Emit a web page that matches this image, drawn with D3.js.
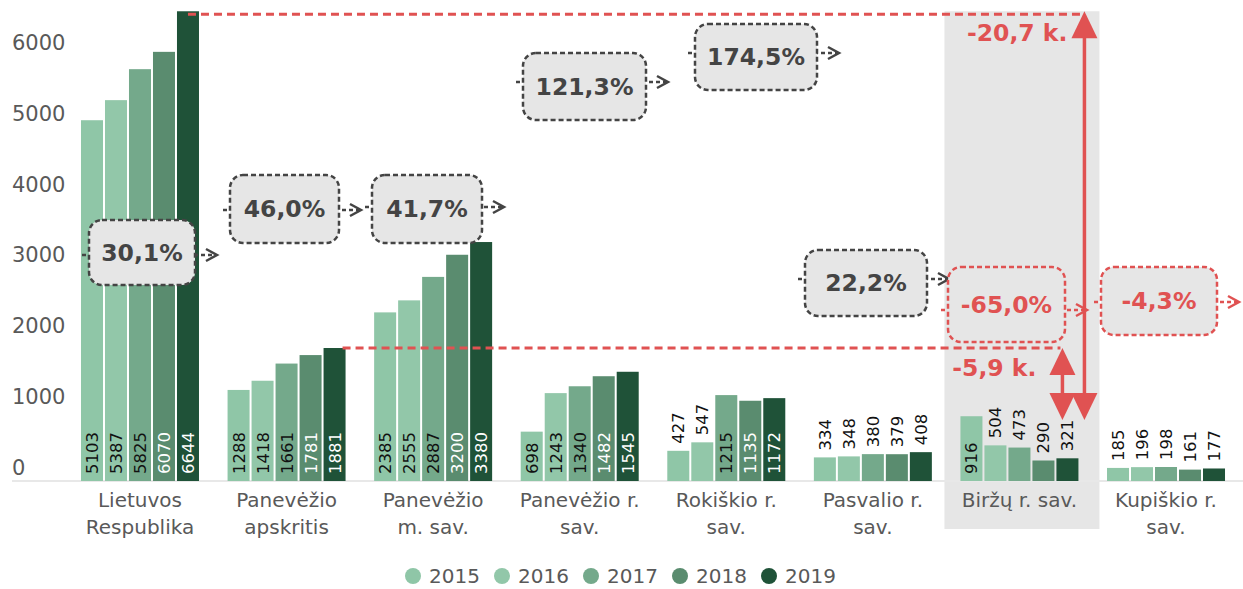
<!DOCTYPE html>
<html>
<head>
<meta charset="utf-8">
<script src="https://cdn.jsdelivr.net/npm/d3@7"></script>
<style>
  body { margin: 0; background: #fff; }
  svg { display: block; font-family: 'DejaVu Sans', Verdana, sans-serif; }
</style>
</head>
<body>
<div id="chart"></div>
<script>
const w = 1243, h = 589

// data
const categories = ['Lietuvos Respublika', 'Panevėžio apskritis', 'Panevėžio m. sav.', 'Panevėžio r. sav.',
  'Rokiškio r. sav.', 'Pasvalio r. sav.', 'Biržų r. sav.', 'Kupiškio r. sav.']
const catLines = [['Lietuvos', 'Respublika'], ['Panevėžio', 'apskritis'], ['Panevėžio', 'm. sav.'], ['Panevėžio r.', 'sav.'],
  ['Rokiškio r.', 'sav.'], ['Pasvalio r.', 'sav.'], ['Biržų r. sav.'], ['Kupiškio r.', 'sav.']]
const years = ['2015', '2016', '2017', '2018', '2019']
const v2015 = [5103, 1288, 2385, 698, 427, 334, 916, 185]
const v2016 = [5387, 1418, 2555, 1243, 547, 348, 504, 196]
const v2017 = [5825, 1661, 2887, 1340, 1215, 380, 473, 198]
const v2018 = [6070, 1781, 3200, 1482, 1135, 379, 290, 161]
const v2019 = [6644, 1881, 3380, 1545, 1172, 408, 321, 177]
const yTicks = [0, 1000, 2000, 3000, 4000, 5000, 6000]
const changeLabels = ['30,1%', '46,0%', '41,7%', '121,3%', '174,5%', '22,2%', '-65,0%', '-4,3%']
const ratioLabels = ['-20,7 k.', '-5,9 k.']
const highlightCat = 'Biržų r. sav.'

const series = [v2015, v2016, v2017, v2018, v2019]
const colors = ['#8fc6a7', '#92c7a9', '#74a98b', '#5a8c6f', '#1f5238']
const labelColors = ['#111', '#111', '#111', '#fff', '#fff']
const red = '#e05252', boxText = '#444', gray = '#595959'

// annotation box layout (pixels)
const boxLayout = [
  {x0: 89, y0: 220, x1: 195, y1: 285, ay: 255},
  {x0: 230, y0: 175, x1: 339, y1: 243, ay: 210},
  {x0: 372, y0: 175, x1: 482, y1: 243, ay: 207},
  {x0: 523, y0: 53, x1: 646, y1: 120, ay: 82},
  {x0: 695, y0: 24, x1: 817, y1: 90, ay: 53},
  {x0: 805, y0: 250, x1: 927, y1: 316, ay: 279},
  {x0: 948, y0: 267, x1: 1065, y1: 342, ay: 310},
  {x0: 1101, y0: 267, x1: 1217, y1: 335, ay: 302}
]

const svg = d3.select('#chart').append('svg')
  .attr('width', w)
  .attr('height', h)

const x = d3.scaleBand()
  .domain(categories)
  .range([66.7, 1239.3])
  .paddingInner(0.195)
  .paddingOuter(0.0975)
const xi = d3.scaleBand()
  .domain(years)
  .range([0, x.bandwidth()])
  .paddingInner(0.083)
const y = d3.scaleLinear()
  .domain([0, 6000])
  .range([481, 56.8])

// highlight band
svg.append('rect')
  .attr('x', x(highlightCat) - 16)
  .attr('y', y(d3.max(v2019)))
  .attr('width', x.bandwidth() + 37)
  .attr('height', 529 - y(d3.max(v2019)))
  .attr('fill', '#e6e6e6')

// baseline
svg.append('line')
  .attr('x1', 12).attr('x2', w)
  .attr('y1', y(0)).attr('y2', y(0))
  .attr('stroke', '#e8e8e8')
  .attr('stroke-width', 2)

// y labels
svg.append('g').selectAll('text')
  .data(yTicks)
  .enter().append('text')
  .attr('x', 12)
  .attr('y', d => y(d) - 14)
  .attr('dy', '0.36em')
  .attr('font-size', 21)
  .attr('fill', gray)
  .text(d => d)

// bars
const rows = []
categories.forEach((c, i) => years.forEach((yr, j) => rows.push({cat: c, year: yr, j: j, v: series[j][i]})))

const gBars = svg.append('g')
gBars.selectAll('rect')
  .data(rows)
  .enter().append('rect')
  .attr('x', d => x(d.cat) + xi(d.year))
  .attr('y', d => y(d.v))
  .attr('width', xi.bandwidth())
  .attr('height', d => y(0) - y(d.v))
  .attr('fill', d => colors[d.j])

const fits = d => (y(0) - y(d.v)) > String(d.v).length * 10.5 + 13
gBars.selectAll('text')
  .data(rows)
  .enter().append('text')
  .attr('transform', d => {
    const cx = x(d.cat) + xi(d.year) + xi.bandwidth() / 2
    const cy = fits(d) ? y(0) - 7 : y(d.v) - 7
    return `translate(${cx},${cy}) rotate(-90)`
  })
  .attr('dy', '0.36em')
  .attr('font-size', 16.5)
  .attr('fill', d => fits(d) ? labelColors[d.j] : '#111')
  .text(d => d.v)

// category labels
const gCat = svg.append('g')
categories.forEach((c, i) => {
  catLines[i].forEach((line, k) => {
    gCat.append('text')
      .attr('x', x(c) + x.bandwidth() / 2)
      .attr('y', 500 + k * 27)
      .attr('dy', '0.36em')
      .attr('text-anchor', 'middle')
      .attr('font-size', 20)
      .attr('fill', gray)
      .text(line)
  })
})

// red reference lines
const topY = y(v2019[0]) + 3
const bigX = x(highlightCat) + x.bandwidth() + 6
const smallX = bigX - 22
svg.append('line')
  .attr('x1', x(categories[0]) + xi('2019') + 11).attr('x2', bigX)
  .attr('y1', topY).attr('y2', topY)
  .attr('stroke', red).attr('stroke-width', 3).attr('stroke-dasharray', '8,5')
svg.append('line')
  .attr('x1', x(categories[1]) + x.bandwidth() - 3).attr('x2', smallX - 2)
  .attr('y1', y(v2019[1])).attr('y2', y(v2019[1]))
  .attr('stroke', red).attr('stroke-width', 3).attr('stroke-dasharray', '8,5')

// double arrows
const arrowBottom = 420
const drawArrow = (ax, yTop, yBot) => {
  svg.append('line')
    .attr('x1', ax).attr('x2', ax)
    .attr('y1', yTop + 20).attr('y2', yBot - 20)
    .attr('stroke', red).attr('stroke-width', 3.5)
  svg.append('path')
    .attr('d', `M${ax},${yTop} L${ax - 13},${yTop + 27} L${ax + 13},${yTop + 27} Z`)
    .attr('fill', red)
  svg.append('path')
    .attr('d', `M${ax},${yBot} L${ax - 13},${yBot - 27} L${ax + 13},${yBot - 27} Z`)
    .attr('fill', red)
}
drawArrow(bigX, y(v2019[0]), arrowBottom)
drawArrow(smallX, y(v2019[1]), arrowBottom)

svg.append('text')
  .attr('x', bigX - 17).attr('y', 33).attr('dy', '0.36em')
  .attr('text-anchor', 'end')
  .attr('font-size', 23.5).attr('font-weight', 'bold')
  .attr('fill', red)
  .text(ratioLabels[0])
svg.append('text')
  .attr('x', smallX - 26).attr('y', 368).attr('dy', '0.36em')
  .attr('text-anchor', 'end')
  .attr('font-size', 23.5).attr('font-weight', 'bold')
  .attr('fill', red)
  .text(ratioLabels[1])

// change boxes
const gBox = svg.append('g')
changeLabels.forEach((t, i) => {
  const b = boxLayout[i]
  const col = t.startsWith('-') ? red : boxText
  gBox.append('line')
    .attr('x1', b.x0 - 7).attr('x2', b.x1 + 21)
    .attr('y1', b.ay).attr('y2', b.ay)
    .attr('stroke', col).attr('stroke-width', 2.5).attr('stroke-dasharray', '4,3')
  gBox.append('path')
    .attr('d', `M${b.x1 + 11},${b.ay - 6} L${b.x1 + 22},${b.ay} L${b.x1 + 11},${b.ay + 6}`)
    .attr('fill', 'none')
    .attr('stroke', col).attr('stroke-width', 2.5)
  gBox.append('rect')
    .attr('x', b.x0).attr('y', b.y0)
    .attr('width', b.x1 - b.x0).attr('height', b.y1 - b.y0)
    .attr('rx', 13)
    .attr('fill', '#e6e6e6')
    .attr('stroke', col).attr('stroke-width', 2.5).attr('stroke-dasharray', '5,3')
  gBox.append('text')
    .attr('x', (b.x0 + b.x1) / 2)
    .attr('y', (b.y0 + b.y1) / 2)
    .attr('dy', '0.36em')
    .attr('text-anchor', 'middle')
    .attr('font-size', 23.5).attr('font-weight', 'bold')
    .attr('fill', col)
    .text(t)
})

// legend
const legend = svg.append('g').selectAll('g')
  .data(years)
  .enter().append('g')
  .attr('transform', (d, i) => `translate(${413 + i * 89},576)`)
legend.append('circle')
  .attr('r', 8)
  .attr('fill', (d, i) => colors[i])
legend.append('text')
  .attr('x', 16)
  .attr('dy', '0.36em')
  .attr('font-size', 20)
  .attr('fill', gray)
  .text(d => d)
</script>
</body>
</html>
